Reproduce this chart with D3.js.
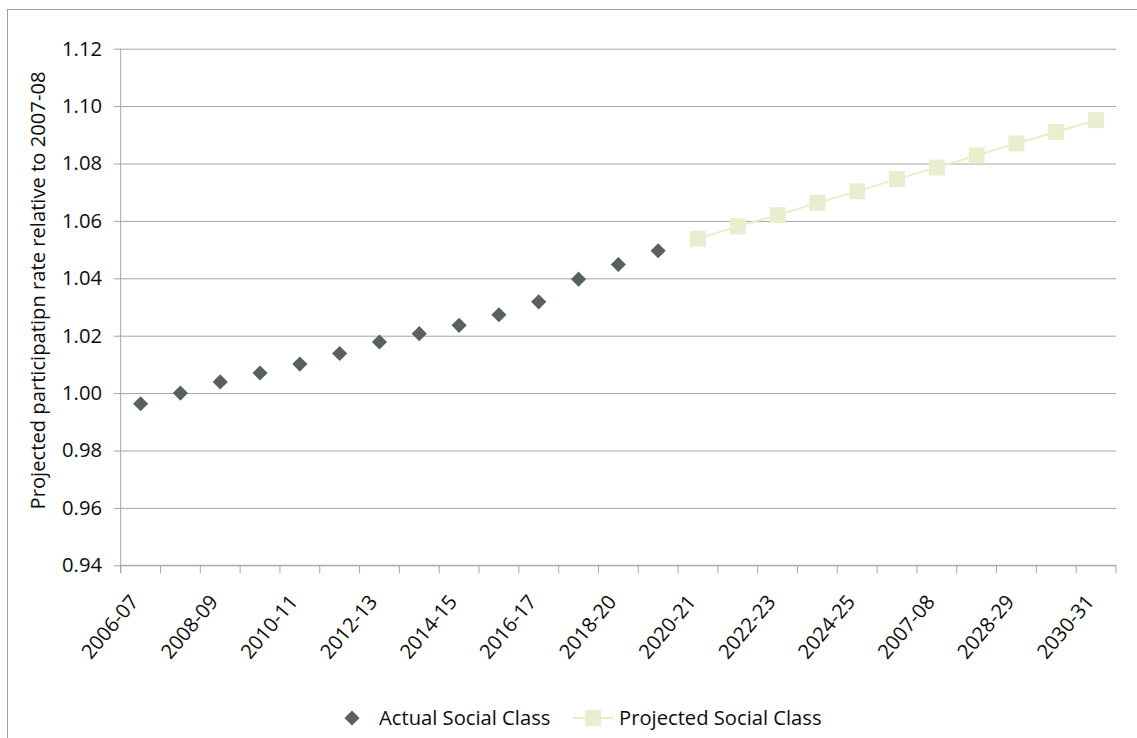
<!DOCTYPE html>
<html>
<head>
<meta charset="utf-8">
<script src="https://cdn.jsdelivr.net/npm/d3@7"></script>
<style>
  html, body { margin: 0; padding: 0; background: #fff; }
  svg { display: block; font-family: "Open Sans", sans-serif; }
</style>
</head>
<body>
<svg id="chart" width="1137" height="738"></svg>
<script>
// ---- data ----
const categories = ["2006-07","2007-08","2008-09","2009-10","2010-11","2011-12","2012-13",
  "2013-14","2014-15","2015-16","2016-17","2017-18","2018-19","2019-20","2020-21","2021-22",
  "2022-23","2023-24","2024-25","2025-26","2026-27","2027-28","2028-29","2029-30","2030-31"];
// labels as printed on the axis (every second category)
const tickLabels = ["2006-07","2008-09","2010-11","2012-13","2014-15","2016-17","2018-20",
  "2020-21","2022-23","2024-25","2007-08","2028-29","2030-31"];
const actualCats = categories.slice(0, 14);
const actualValues = [0.9963, 1.0000, 1.0039, 1.0070, 1.0101, 1.0138, 1.0178,
  1.0207, 1.0236, 1.0273, 1.0318, 1.0397, 1.0448, 1.0496];
const projectedCats = categories.slice(14);
const projectedValues = [1.0538, 1.0581, 1.0620, 1.0663, 1.0703, 1.0746,
  1.0786, 1.0828, 1.0870, 1.0910, 1.0951];
const yTicks = [0.94, 0.96, 0.98, 1.00, 1.02, 1.04, 1.06, 1.08, 1.10, 1.12];
const seriesNames = ["Actual Social Class", "Projected Social Class"];
const yTitle = "Projected participatipn rate relative to 2007-08";

// ---- layout ----
const L = 120.7, R = 1116, T = 48.7, B = 565.3;
const FS = 20.2;
const svg = d3.select("#chart");
const gridColor = "#a6a6a6";
const actualColor = "#596063";
const projColor = "#e8efcf";
const projLine = "#e6ecc8";
const textColor = "#0d0d0d";

// outer border
svg.append("rect").attr("x", 7.5).attr("y", 9.5).attr("width", 1200).attr("height", 800)
  .attr("fill", "none").attr("stroke", "#a0a0a0").attr("stroke-width", 1);

const x = d3.scaleBand().domain(categories).range([L, R]);
const y = d3.scaleLinear().domain([0.94, 1.12]).range([B, T]);
const cx = c => x(c) + x.bandwidth() / 2;

// gridlines + y ticks
const yAxis = d3.axisLeft(y).tickValues(yTicks).tickFormat(d3.format(".2f"))
  .tickSize(-(R - L)).tickPadding(18.7);
const gy = svg.append("g").attr("transform", `translate(${L},0)`).call(yAxis);
gy.select(".domain").remove();
gy.selectAll(".tick line").attr("stroke", gridColor).attr("x1", -7);
gy.selectAll(".tick text").attr("font-size", FS).attr("fill", textColor)
  .attr("font-family", "Open Sans, sans-serif");

// y axis line
svg.append("line").attr("x1", L).attr("x2", L).attr("y1", y(1.12)).attr("y2", y(0.94) + 8)
  .attr("stroke", gridColor);
// x axis line
svg.append("line").attr("x1", L).attr("x2", R).attr("y1", y(0.94)).attr("y2", y(0.94))
  .attr("stroke", gridColor);

// x ticks at category boundaries
const boundaries = categories.map(c => x(c)).concat([x.range()[1]]);
svg.append("g").selectAll("line").data(boundaries).join("line")
  .attr("x1", d => d).attr("x2", d => d)
  .attr("y1", y(0.94)).attr("y2", y(0.94) + 8)
  .attr("stroke", gridColor);

// x tick labels (every second category)
const labeled = categories.filter((c, i) => i % 2 === 0);
svg.append("g").selectAll("text").data(labeled).join("text")
  .attr("transform", c => `translate(${cx(c) - 1},${y(0.94) + 37}) rotate(-50)`)
  .attr("text-anchor", "end")
  .attr("font-size", FS)
  .attr("fill", textColor)
  .text((c, i) => tickLabels[i]);

// y title
svg.append("text")
  .attr("transform", `translate(45,290.5) rotate(-90)`)
  .attr("text-anchor", "middle")
  .attr("font-size", FS)
  .attr("fill", textColor)
  .text(yTitle);

// projected line
const line = d3.line().x((d, i) => cx(projectedCats[i])).y(d => y(d));
svg.append("path").datum(projectedValues).attr("d", line)
  .attr("fill", "none").attr("stroke", projLine).attr("stroke-width", 1.8);

// projected squares
svg.append("g").selectAll("rect").data(projectedValues).join("rect")
  .attr("x", (d, i) => cx(projectedCats[i]) - 8)
  .attr("y", d => y(d) - 8)
  .attr("width", 16).attr("height", 16)
  .attr("fill", projColor);

// actual diamonds
const diamond = d3.symbol().type(d3.symbolSquare).size(115);
svg.append("g").selectAll("path").data(actualValues).join("path")
  .attr("d", diamond)
  .attr("transform", (d, i) => `translate(${cx(actualCats[i])},${y(d)}) rotate(45)`)
  .attr("fill", actualColor);

// legend
const lg = svg.append("g");
lg.append("path").attr("d", diamond).attr("transform", "translate(352,718) rotate(45)")
  .attr("fill", actualColor);
lg.append("text").attr("x", 379).attr("y", 718).attr("dy", "0.35em")
  .attr("font-size", FS).attr("fill", textColor).text(seriesNames[0]);
lg.append("line").attr("x1", 573).attr("x2", 613).attr("y1", 718).attr("y2", 718)
  .attr("stroke", projLine).attr("stroke-width", 1.8);
lg.append("rect").attr("x", 585).attr("y", 710).attr("width", 16).attr("height", 16)
  .attr("fill", projColor);
lg.append("text").attr("x", 619).attr("y", 718).attr("dy", "0.35em")
  .attr("font-size", FS).attr("fill", textColor).text(seriesNames[1]);
</script>
</body>
</html>
